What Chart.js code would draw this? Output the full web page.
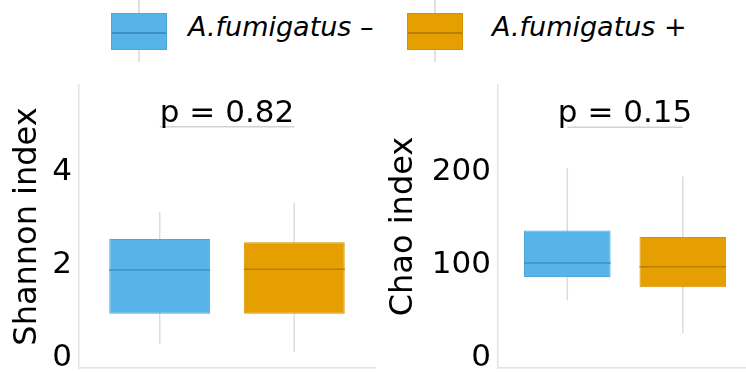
<!DOCTYPE html>
<html lang="en">
<head>
<meta charset="UTF-8">
<title>Shannon and Chao index</title>
<script src="https://cdn.jsdelivr.net/npm/chart.js"></script>
<style>
  body { margin: 0; background: #fff; }
  #wrap { position: relative; width: 746px; height: 372px; overflow: hidden; font-family: "DejaVu Sans", sans-serif; }
  canvas { position: absolute; top: 70px; }
  #shannon { left: 0; }
  #chao { left: 380px; }
  .whisker { position: absolute; top: 0; width: 2px; height: 62px; background: #e0e0e0; }
  .key { position: absolute; top: 13px; width: 56px; height: 37px; box-sizing: border-box; border: 1px solid; }
  .key span { position: absolute; left: 0; right: 0; top: 18px; height: 1.5px; }
  .label { position: absolute; top: 13px; font-size: 27px; line-height: 27px; font-style: italic; color: #000; white-space: nowrap; }
</style>
</head>
<body>
<div id="wrap">
  <div class="whisker" style="left:138px"></div>
  <div class="key" style="left:111px; background:#56B4E9; border-color:#50a6d6"><span style="background:#3f8fc0"></span></div>
  <div class="label" style="left:188px">A.fumigatus –</div>
  <div class="whisker" style="left:434px"></div>
  <div class="key" style="left:407px; background:#E69F00; border-color:#d49400"><span style="background:#b98000"></span></div>
  <div class="label" style="left:492px">A.fumigatus +</div>

  <canvas id="shannon" width="380" height="302"></canvas>
  <canvas id="chao" width="366" height="302"></canvas>
</div>

<script>
// groups (x positions 1 and 2)
const groups = ['A.fumigatus –', 'A.fumigatus +'];
const groupX = [1, 2];
const fills = ['#56B4E9', '#E69F00'];
const borders = ['#50a6d6', '#d49400'];
const medianColors = ['#3f8fc0', '#b98000'];

// Shannon index boxes
const shannonLow = [0.30, 0.13];
const shannonQ1 = [0.95, 0.95];
const shannonMedian = [1.89, 1.91];
const shannonQ3 = [2.56, 2.49];
const shannonHigh = [3.14, 3.33];
const shannonTicks = [0, 2, 4];
const shannonP = 'p = 0.82';
const shannonBracket = 4.97;

// Chao index boxes
const chaoLow = [62, 27];
const chaoQ1 = [87, 76];
const chaoMedian = [102, 98];
const chaoQ3 = [137, 130];
const chaoHigh = [204, 195];
const chaoTicks = [0, 100, 200];
const chaoP = 'p = 0.15';
const chaoBracket = 248;

// whiskers, medians and p-value bracket
function boxExtras(low, median, high, pText, bracketY) {
    return {
        id: 'boxExtras',
        beforeDatasetsDraw(chart) {
            const {ctx, scales: {x, y}} = chart;
            ctx.save();
            ctx.strokeStyle = '#dcdcdc';
            ctx.lineWidth = 1.5;
            groupX.forEach((gx, i) => {
                const px = x.getPixelForValue(gx);
                ctx.beginPath();
                ctx.moveTo(px, y.getPixelForValue(high[i]));
                ctx.lineTo(px, y.getPixelForValue(low[i]));
                ctx.stroke();
            });
            ctx.restore();
        },
        afterDatasetsDraw(chart) {
            const {ctx, scales: {x, y}} = chart;
            ctx.save();
            ctx.lineWidth = 1.5;
            chart.getDatasetMeta(0).data.forEach((bar, i) => {
                const py = y.getPixelForValue(median[i]);
                ctx.strokeStyle = medianColors[i];
                ctx.beginPath();
                ctx.moveTo(bar.x - bar.width / 2, py);
                ctx.lineTo(bar.x + bar.width / 2, py);
                ctx.stroke();
            });
            const x1 = x.getPixelForValue(groupX[0]);
            const x2 = x.getPixelForValue(groupX[1]);
            const by = y.getPixelForValue(bracketY);
            ctx.strokeStyle = '#d2d2d2';
            ctx.beginPath();
            ctx.moveTo(x1, by);
            ctx.lineTo(x2, by);
            ctx.stroke();
            ctx.fillStyle = '#000';
            ctx.font = '31px "DejaVu Sans"';
            ctx.textAlign = 'center';
            ctx.textBaseline = 'alphabetic';
            ctx.fillText(pText, (x1 + x2) / 2, by - 5);
            ctx.restore();
        }
    };
}

function makeChart(id, q1, q3, low, median, high, ticks, yMin, yMax, xMax, title, yWidth, titlePad, padRight, pText, bracketY) {
    return new Chart(document.getElementById(id), {
        type: 'bar',
        data: {
            labels: groups,
            datasets: [{
                data: groupX.map((gx, i) => ({x: gx, y: [q1[i], q3[i]]})),
                backgroundColor: fills,
                borderColor: borders,
                borderWidth: 1,
                borderSkipped: false,
                barPercentage: 0.75,
                categoryPercentage: 1
            }]
        },
        options: {
            responsive: false,
            animation: false,
            devicePixelRatio: 1,
            layout: { padding: { top: 15, right: padRight, bottom: 4, left: 0 } },
            plugins: { legend: { display: false }, tooltip: { enabled: false } },
            scales: {
                x: {
                    type: 'linear',
                    min: 0.4,
                    max: xMax,
                    offset: false,
                    afterBuildTicks: s => { s.ticks = groupX.map(v => ({value: v})); },
                    afterFit: s => { s.height = 0; s.paddingLeft = 0; s.paddingRight = 0; },
                    ticks: { display: false },
                    grid: { display: false, drawTicks: false },
                    border: { display: true, color: '#e3e3e3', width: 1.5 }
                },
                y: {
                    min: yMin,
                    max: yMax,
                    afterBuildTicks: s => { s.ticks = ticks.map(v => ({value: v})); },
                    afterFit: s => { s.width = yWidth; s.paddingTop = 0; s.paddingBottom = 0; },
                    ticks: { color: '#000', padding: 7, font: { family: 'DejaVu Sans', size: 31 } },
                    grid: { display: false, drawTicks: false },
                    border: { display: true, color: '#e3e3e3', width: 1.5 },
                    title: {
                        display: true,
                        text: title,
                        color: '#000',
                        padding: { top: titlePad, bottom: 0 },
                        font: { family: 'DejaVu Sans', size: 32 }
                    }
                }
            }
        },
        plugins: [boxExtras(low, median, high, pText, bracketY)]
    });
}

makeChart('shannon', shannonQ1, shannonQ3, shannonLow, shannonMedian, shannonHigh,
    shannonTicks, -0.215, 5.87, 2.6, 'Shannon index', 79, 8, 5, shannonP, shannonBracket);
makeChart('chao', chaoQ1, chaoQ3, chaoLow, chaoMedian, chaoHigh,
    chaoTicks, -10.75, 293.5, 2.547, 'Chao index', 118, 4, 0, chaoP, chaoBracket);
</script>
</body>
</html>
